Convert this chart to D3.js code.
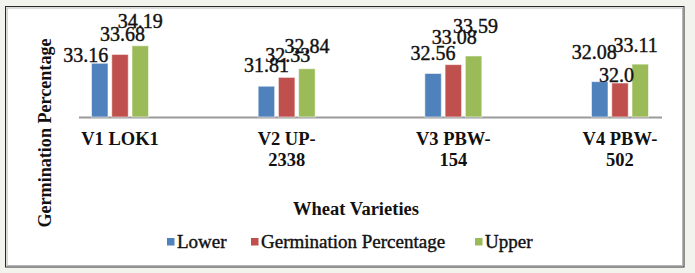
<!DOCTYPE html>
<html>
<head>
<meta charset="utf-8">
<script src="https://cdn.jsdelivr.net/npm/d3@7"></script>
<style>
  html, body { margin: 0; padding: 0; background: #f3f3ee; }
  svg { display: block; }
</style>
</head>
<body>
<svg id="chart" width="695" height="273"></svg>
<script>
// ---- data ----
const categories = ["V1 LOK1", "V2 UP-|2338", "V3 PBW-|154", "V4 PBW-|502"];
const seriesNames = ["Lower", "Germination Percentage", "Upper"];
const lower = [33.16, 31.81, 32.56, 32.08];
const germination = [33.68, 32.33, 33.08, 32.0];
const upper = [34.19, 32.84, 33.59, 33.11];
const valueLabels = [
  ["33.16", "31.81", "32.56", "32.08"],
  ["33.68", "32.33", "33.08", "32.0"],
  ["34.19", "32.84", "33.59", "33.11"]
];
// label nudges (dx, dy) relative to default position, per series per category
const labelNudge = [
  [[-14, 13], [0, 0], [0, 0.5], [-5.5, -8.5]],
  [[2.5, 1], [1, -1], [1, -6.5], [-3.5, 13]],
  [[0, -4], [0, -2], [2, -9], [-4.5, 2]]
];
const colors = ["#4F81BD", "#C0504D", "#9BBB59"];
const yDomain = [30, 35];

const seriesValues = [lower, germination, upper];
const FONT = "Liberation Serif";

const svg = d3.select("#chart").attr("font-family", FONT);

// frame
svg.append("rect").attr("x", 5.5).attr("y", 6.5).attr("width", 678.5).attr("height", 260.5)
  .attr("fill", "#fff").attr("stroke", "#2a2a2a").attr("stroke-width", 1);
svg.append("rect").attr("x", 7).attr("y", 8).attr("width", 675.5).attr("height", 257.5)
  .attr("fill", "none").attr("stroke", "#b5b5b5").attr("stroke-width", 1);

const x0 = d3.scaleBand().domain(categories).range([36.67, 703.33]).paddingInner(0).paddingOuter(0);
const groupW = 57;
const x1 = d3.scaleBand().domain(d3.range(seriesNames.length)).range([-groupW / 2, groupW / 2]).paddingInner(0.185).paddingOuter(0);
const y = d3.scaleLinear().domain(yDomain).range([117, 32]);

// axis line
svg.append("line").attr("x1", 79).attr("x2", 662).attr("y1", y(yDomain[0]) + 0.5).attr("y2", y(yDomain[0]) + 0.5)
  .attr("stroke", "#9a9a9a").attr("stroke-width", 2);

// bars
seriesValues.forEach((vals, si) => {
  svg.append("g").selectAll("rect").data(vals).join("rect")
    .attr("x", (d, i) => x0(categories[i]) + x0.bandwidth() / 2 + x1(si))
    .attr("y", d => y(d))
    .attr("width", x1.bandwidth())
    .attr("height", d => y(yDomain[0]) - y(d))
    .attr("fill", colors[si])
    .attr("stroke", "#ffffff").attr("stroke-opacity", 0.55).attr("stroke-width", 1);
});

function styleText(sel, size, weight) {
  return sel.attr("font-family", FONT).attr("font-size", size).attr("font-weight", weight).attr("fill", "#111");
}

// value labels
seriesValues.forEach((vals, si) => {
  const t = svg.append("g").selectAll("text").data(vals).join("text")
    .attr("x", (d, i) => x0(categories[i]) + x0.bandwidth() / 2 + x1(si) + x1.bandwidth() / 2 + labelNudge[si][i][0])
    .attr("y", (d, i) => y(d) - 14 + labelNudge[si][i][1])
    .attr("text-anchor", "middle")
    .attr("stroke", "#111").attr("stroke-width", 0.4)
    .text((d, i) => valueLabels[si][i]);
  styleText(t, 20, "normal");
});

// category labels
const catG = svg.append("g");
categories.forEach(c => {
  const lines = c.split("|");
  const t = catG.append("text")
    .attr("x", x0(c) + x0.bandwidth() / 2)
    .attr("y", 145)
    .attr("text-anchor", "middle");
  styleText(t, 18.5, "bold");
  lines.forEach((ln, li) => {
    t.append("tspan").attr("x", x0(c) + x0.bandwidth() / 2).attr("dy", li === 0 ? 0 : 21).text(ln);
  });
});

// axis titles
styleText(svg.append("text").attr("x", 356).attr("y", 215).attr("text-anchor", "middle"), 18.5, "bold")
  .text("Wheat Varieties");
styleText(svg.append("text").attr("transform", "translate(51,133) rotate(-90)").attr("text-anchor", "middle"), 18, "bold")
  .attr("textLength", 189).attr("lengthAdjust", "spacingAndGlyphs")
  .text("Germination Percentage");

// legend
const legendX = [167, 251, 475];
const legend = svg.append("g");
seriesNames.forEach((n, i) => {
  legend.append("rect").attr("x", legendX[i]).attr("y", 238).attr("width", 7.5).attr("height", 7.5).attr("fill", colors[i]);
  styleText(legend.append("text").attr("x", legendX[i] + 10).attr("y", 248), 19, "normal")
    .attr("stroke", "#111").attr("stroke-width", 0.4).text(n);
});
</script>
</body>
</html>
